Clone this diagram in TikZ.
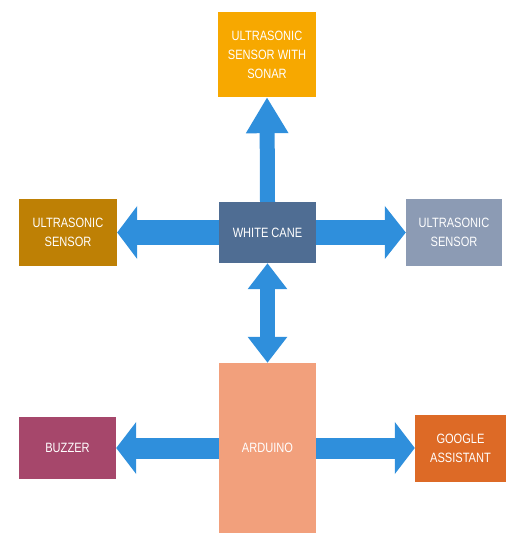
\documentclass[tikz,border=0pt]{standalone}
\usepackage{fontspec}
\usepackage{tikz}
\usetikzlibrary{arrows.meta}
\newfontfamily\boxfont[FakeStretch=0.82]{Liberation Sans}
\definecolor{sonarcol}{HTML}{F7A800}
\definecolor{uslcol}{HTML}{BE8005}
\definecolor{canecol}{HTML}{4F6D93}
\definecolor{usrcol}{HTML}{8C9BB4}
\definecolor{ardcol}{HTML}{F2A07C}
\definecolor{buzzcol}{HTML}{A6476B}
\definecolor{googcol}{HTML}{DD6A26}
\definecolor{arrowcol}{HTML}{2F8FDC}

\begin{document}
\begin{tikzpicture}[x=1pt,y=-1pt,
  block/.style={rectangle,inner sep=0pt,text=white,align=center,
    font=\boxfont\fontsize{13.5}{19}\selectfont},
  fatarrow/.style={draw=arrowcol,color=arrowcol}]
\useasboundingbox (0,0) rectangle (506,535);
% blocks
\node [block,fill=sonarcol,minimum width=98pt,minimum height=85pt] (sonar) at (267,54.5) {ULTRASONIC\\SENSOR WITH\\SONAR};
\node [block,fill=canecol,minimum width=97pt,minimum height=61pt] (cane) at (267.5,232.5) {WHITE CANE};
\node [block,fill=uslcol,minimum width=98pt,minimum height=67pt] (usleft) at (68,232.5) {ULTRASONIC\\SENSOR};
\node [block,fill=usrcol,minimum width=96pt,minimum height=67pt] (usright) at (454,232.5) {ULTRASONIC\\SENSOR};
\node [block,fill=ardcol,minimum width=97pt,minimum height=170pt] (ard) at (267.5,448) {ARDUINO};
\node [block,fill=buzzcol,minimum width=97pt,minimum height=62pt] (buzzer) at (67.5,448) {BUZZER};
\node [block,fill=googcol,minimum width=91pt,minimum height=67pt] (google) at (460.5,448) {GOOGLE\\ASSISTANT};
% arrows
\draw [fatarrow,line width=15pt,-{Triangle[length=36pt,width=40pt]}] (cane.north) -- (sonar.south);
\draw [fatarrow,line width=25pt,-{Triangle[length=20pt,width=52pt]}] (cane.west) -- (usleft.east);
\draw [fatarrow,line width=25pt,-{Triangle[length=21pt,width=52pt]}] (cane.east) -- (usright.west);
\draw [fatarrow,line width=15pt,{Triangle[length=26pt,width=38pt]}-{Triangle[length=26pt,width=38pt]}] (cane.south) -- (ard.north);
\draw [fatarrow,line width=21pt,-{Triangle[length=20pt,width=51pt]}] (ard.west) -- (buzzer.east);
\draw [fatarrow,line width=21pt,-{Triangle[length=20pt,width=51pt]}] (ard.east) -- (google.west);
\end{tikzpicture}
\end{document}
